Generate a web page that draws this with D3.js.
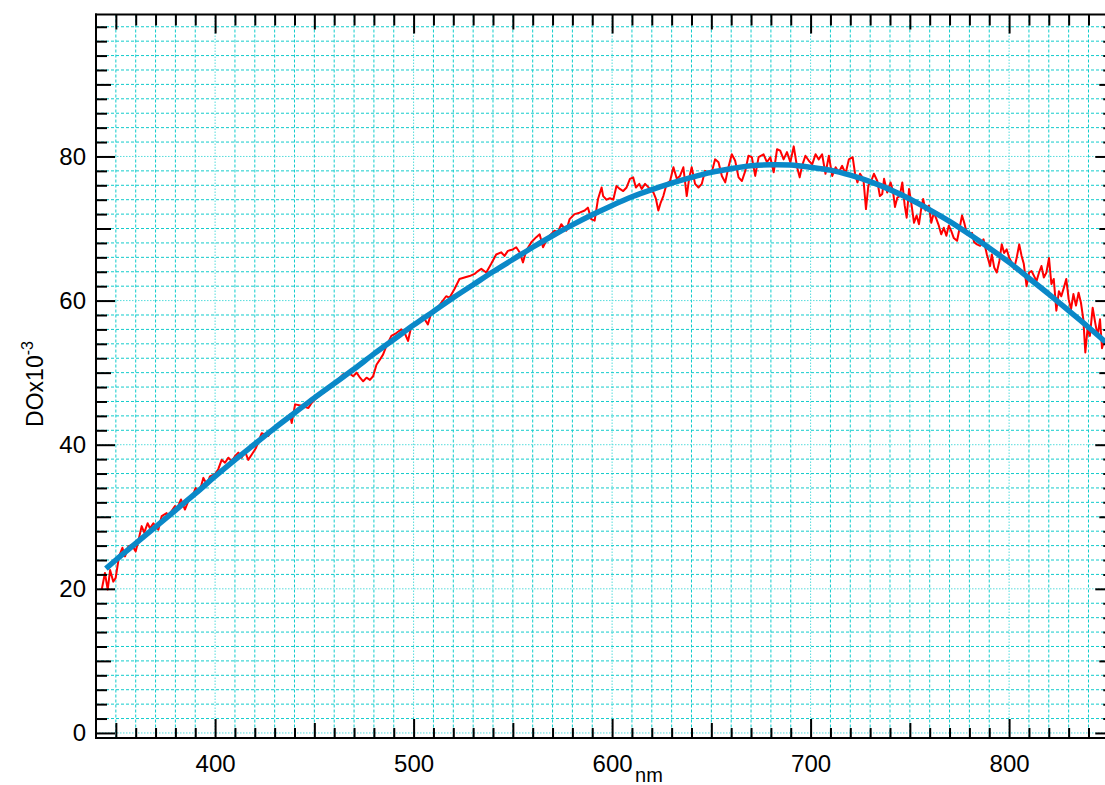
<!DOCTYPE html>
<html>
<head>
<meta charset="utf-8">
<script src="https://cdn.jsdelivr.net/npm/d3@7"></script>
<style>
  html, body { margin: 0; padding: 0; background: #fff; }
  svg { display: block; }
  text { font-family: "Liberation Sans", Arial, Helvetica, sans-serif; }
</style>
</head>
<body>
<svg id="chart" width="1105" height="785"></svg>
<script>
// ---------- DATA ----------
const redNm = [342.9,344.5,345.9,347.1,348.7,349.9,351.6,353.3,354.6,356.3,358.0,360.0,361.3,363.0,364.3,366.0,367.2,368.9,371.4,373.1,375.6,376.4,379.8,381.0,382.8,384.8,386.8,389.0,390.2,391.5,393.2,394.1,395.8,397.4,399.9,401.6,403.3,405.0,406.7,408.4,410.0,411.7,413.4,415.0,416.7,418.4,420.5,423.5,426.8,428.5,431.0,433.5,436.1,437.7,438.6,440.3,443.6,447.0,448.6,451.2,454.5,457.0,459.6,462.1,464.6,467.1,
  469.6,471.3,473.0,474.6,476.3,478.0,479.6,481.3,483.0,484.6,486.3,488.8,491.3,493.8,495.5,497.2,498.9,501.4,503.0,504.7,507.2,508.9,511.4,513.9,516.4,518.1,520.6,523.1,525.6,528.2,530.7,532.4,534.1,536.6,539.1,541.6,544.1,545.8,547.5,550.0,551.7,553.4,555.1,556.7,559.3,561.8,563.5,565.2,566.8,568.5,571.0,572.7,574.4,576.9,578.6,581.1,583.6,586.2,587.8,589.5,591.2,592.9,
  594.7,595.5,597.2,598.9,600.6,602.2,603.9,605.6,607.3,609.0,610.6,612.0,613.7,614.9,616.6,619.1,620.8,622.1,623.3,624.5,625.8,627.5,629.2,630.9,632.6,634.2,635.9,637.6,638.9,640.1,641.8,643.5,645.2,646.8,648.5,650.2,651.9,653.6,655.3,657.0,658.6,660.3,662.0,663.7,665.4,667.1,668.7,670.4,672.1,673.8,676.3,678.0,679.7,681.4,683.1,684.7,686.4,688.1,689.8,691.5,693.2,694.5,695.7,697.4,699.1,700.8,702.5,704.1,705.8,707.5,709.2,710.9,712.6,714.2,715.9,717.6,719.3,
  721.2,722.4,723.6,724.9,726.6,727.9,729.1,730.3,731.9,733.6,734.9,736.1,737.0,738.6,740.3,741.5,742.5,743.7,744.9,746.2,747.4,748.4,749.6,750.7,752.1,753.4,754.6,755.7,756.7,757.9,759.6,760.8,762.1,763.4,764.6,765.8,767.1,768.4,769.6,770.8,772.1,773.8,775.1,776.3,777.4,778.8,780.1,781.3,782.4,783.8,785.4,787.1,788.8,790.4,791.3,792.5,793.8,795.1,796.3,797.5,798.8,800.1,801.3,802.5,803.8,805.1,806.3,807.4,808.8,810.1,811.3,812.6,813.8,815.1,816.3,817.5,818.8,820.1,821.3,822.5,823.8,825.1,826.3,827.6,828.8,830.0,831.2,832.4,833.7,835.0,836.2,837.4,838.4,839.5,840.7,842.1,843.4,844.6,845.8,846.8,848.0,850.0];
const redDO = [19.9,22.2,19.9,22.6,21.0,21.5,24.5,25.7,24.5,25.9,26.1,25.2,26.6,28.7,27.8,29.1,28.4,29.1,28.2,30.1,30.5,30.1,31.5,31.2,32.4,31.0,32.4,33.1,34.0,33.3,34.5,35.4,34.5,35.6,35.9,36.6,37.9,37.5,38.2,37.7,38.4,38.9,38.2,39.1,37.9,38.6,39.5,41.6,41.2,41.9,42.6,43.3,43.5,44.2,43.0,45.6,45.4,45.1,45.8,46.5,47.2,47.7,48.4,49.1,49.8,50.0,
  49.5,50.0,49.3,48.8,49.3,49.0,49.5,51.1,51.8,52.5,53.7,55.1,55.5,56.0,55.5,54.4,56.5,56.7,57.4,57.8,56.7,58.3,58.8,59.7,60.6,60.4,61.6,63.0,63.2,63.4,63.7,64.1,64.4,63.9,65.1,66.4,66.7,66.2,66.9,67.1,67.4,66.7,65.3,66.9,68.1,68.8,69.2,67.4,68.3,69.0,69.7,69.5,70.6,69.7,71.3,72.0,72.2,72.5,72.9,71.3,71.1,74.1,
  75.7,74.5,74.0,74.2,74.0,75.9,75.5,75.2,75.7,76.9,77.1,75.7,76.2,75.5,76.2,75.5,75.0,74.1,72.5,73.6,74.5,76.2,76.6,78.5,76.9,77.3,78.5,74.5,77.1,78.5,76.2,75.7,76.2,78.0,77.6,77.8,79.6,79.2,77.3,76.4,78.5,80.3,79.4,77.1,76.6,78.0,80.1,79.9,77.3,79.9,80.3,79.2,79.9,77.8,81.0,80.8,79.6,80.6,79.2,81.4,78.5,77.1,78.7,80.1,79.4,78.9,80.3,79.6,80.3,77.6,80.1,77.3,78.5,77.8,78.7,77.6,79.6,
  79.9,77.6,76.4,77.6,76.9,72.7,76.0,76.4,77.6,76.6,74.5,74.8,76.9,75.0,76.4,75.2,73.0,74.3,74.5,76.4,73.2,71.5,75.5,73.6,70.8,71.8,70.6,72.7,74.1,72.5,73.2,70.8,72.2,71.3,70.4,69.2,70.1,69.0,70.4,69.7,68.7,68.3,70.1,71.8,70.8,69.2,69.0,69.4,68.1,67.8,67.6,68.5,66.4,64.8,66.4,64.6,63.9,65.5,67.8,66.6,67.1,65.9,65.3,64.4,65.9,67.8,66.2,65.1,62.0,63.9,64.1,63.4,62.7,63.9,64.8,63.2,63.9,65.9,62.3,63.0,58.6,61.3,60.6,61.8,63.0,60.2,58.8,60.9,59.3,61.1,59.7,57.4,52.8,56.0,55.1,59.0,56.9,55.1,57.4,53.4,54.6,53.8];

const fitNm = [345,350,360,370,380,390,400,410,420,430,440,450,460,470,480,490,500,510,520,530,540,550,560,570,580,590,600,610,620,630,640,650,660,670,680,690,700,710,720,730,740,750,760,770,780,790,800,810,820,830,840,850];
const fitDO = [22.8,24.0,26.3,28.6,30.9,33.2,35.6,37.9,40.1,42.3,44.4,46.5,48.5,50.5,52.6,54.6,56.6,58.5,60.4,62.2,64.0,65.7,67.4,69.0,70.5,71.9,73.2,74.4,75.4,76.3,77.1,77.8,78.3,78.7,78.85,78.8,78.5,78.1,77.4,76.5,75.4,74.1,72.6,71.0,69.2,67.3,65.3,63.1,60.9,58.6,56.3,53.9];

const xMajorTicks = [400,500,600,700,800];
const yMajorTicks = [0,20,40,60,80];
const xLabel = "nm";
const yLabelMain = "DOx10";
const yLabelSup = "-3";

// ---------- LAYOUT ----------
const svg = d3.select("#chart");
const L = 96, R = 1114.3, T = 14.5, B = 738;
const x = d3.scaleLinear().domain([340, 853]).range([L, R]);
const y = d3.scaleLinear().domain([-0.7, 99.7]).range([B, T]);

svg.append("rect").attr("width",1105).attr("height",785).attr("fill","#fff");

const xMinor = d3.range(350, 851, 10).filter(v => v % 50 !== 0);
const xMed = d3.range(350, 851, 50).filter(v => v % 100 !== 0);
const xAll = d3.range(350, 851, 10);
const yMinor = d3.range(0, 99, 2).filter(v => v % 10 !== 0);
const yMed = d3.range(10, 99, 20);
const yAll = d3.range(0, 99, 2);

// grid
const grid = svg.append("g");
grid.selectAll("line.vx").data(xAll).join("line")
  .attr("x1", d => x(d)).attr("x2", d => x(d)).attr("y1", T).attr("y2", B)
  .attr("stroke", d => d % 100 === 0 ? "#55dcdc" : "#11cccc")
  .attr("stroke-width", 1)
  .attr("stroke-dasharray", d => d % 100 === 0 ? "1.5,1.5" : "3,2");
grid.selectAll("line.hy").data(yAll).join("line")
  .attr("x1", L).attr("x2", R).attr("y1", d => y(d)).attr("y2", d => y(d))
  .attr("stroke", d => d % 20 === 0 ? "#55dcdc" : "#11cccc")
  .attr("stroke-width", 1)
  .attr("stroke-dasharray", d => d % 20 === 0 ? "1.5,1.5" : "3,2");

// clip
svg.append("clipPath").attr("id","clip").append("rect")
  .attr("x", L).attr("y", T).attr("width", R-L).attr("height", B-T);

const redData = redNm.map((n,i) => [n, redDO[i]]);
const fitData = fitNm.map((n,i) => [n, fitDO[i]]);

svg.append("path").datum(redData)
  .attr("clip-path","url(#clip)")
  .attr("fill","none").attr("stroke","#ff0000").attr("stroke-width",2)
  .attr("stroke-linejoin","round")
  .attr("d", d3.line().x(d => x(d[0])).y(d => y(d[1])));

svg.append("path").datum(fitData)
  .attr("clip-path","url(#clip)")
  .attr("fill","none").attr("stroke","#0a88c8").attr("stroke-width",5.5)
  .attr("stroke-linecap","butt")
  .attr("d", d3.line().curve(d3.curveCatmullRom).x(d => x(d[0])).y(d => y(d[1])));

// axes (ticks point inward)
function addAxis(gen, transform, vals, size, fmt, pad) {
  const g = svg.append("g").attr("transform", transform)
    .call(gen.tickValues(vals).tickSizeInner(size).tickSizeOuter(0).tickPadding(pad || 3).tickFormat(fmt || (() => "")));
  g.select(".domain").remove();
  g.selectAll(".tick line").attr("stroke","#000").attr("stroke-width",2);
  g.selectAll("text").attr("font-size", 24).attr("fill","#000")
    .style("font-family", '"Liberation Sans", Arial, sans-serif');
  return g;
}
const fmt = d3.format("d");
// bottom
addAxis(d3.axisBottom(x), `translate(0,${B})`, xMinor, -10);
addAxis(d3.axisBottom(x), `translate(0,${B})`, xMed, -15);
addAxis(d3.axisBottom(x), `translate(0,${B})`, xMajorTicks, -19, fmt, 17);
// top
addAxis(d3.axisTop(x), `translate(0,${T})`, xMinor, -11);
addAxis(d3.axisTop(x), `translate(0,${T})`, xMed, -15);
addAxis(d3.axisTop(x), `translate(0,${T})`, xMajorTicks, -19);
// left
addAxis(d3.axisLeft(y), `translate(${L},0)`, yMinor, -11);
addAxis(d3.axisLeft(y), `translate(${L},0)`, yMed, -15);
addAxis(d3.axisLeft(y), `translate(${L},0)`, yMajorTicks, -19, fmt, 10);
// right
addAxis(d3.axisRight(y), `translate(${R},0)`, yMinor, -11);
addAxis(d3.axisRight(y), `translate(${R},0)`, yMed, -15);
addAxis(d3.axisRight(y), `translate(${R},0)`, yMajorTicks, -19);

// frame
const frame = svg.append("g").attr("stroke","#000").attr("stroke-width",2);
frame.append("line").attr("x1",L).attr("x2",L).attr("y1",T-1).attr("y2",B+1);
frame.append("line").attr("x1",L-1).attr("x2",R).attr("y1",B).attr("y2",B);
frame.append("line").attr("x1",L-1).attr("x2",R).attr("y1",T).attr("y2",T);
frame.append("line").attr("x1",R).attr("x2",R).attr("y1",T).attr("y2",B);

// axis titles
svg.append("text").attr("x", 649).attr("y", 781.5)
  .attr("text-anchor","middle").attr("font-size",20).attr("fill","#000").text(xLabel);

const yt = svg.append("text")
  .attr("transform", `translate(43,384) rotate(-90)`)
  .attr("text-anchor","middle").attr("font-size",23).attr("fill","#000");
yt.append("tspan").text(yLabelMain);
yt.append("tspan").attr("font-size",16).attr("dy",-10).text(yLabelSup);
</script>
</body>
</html>
